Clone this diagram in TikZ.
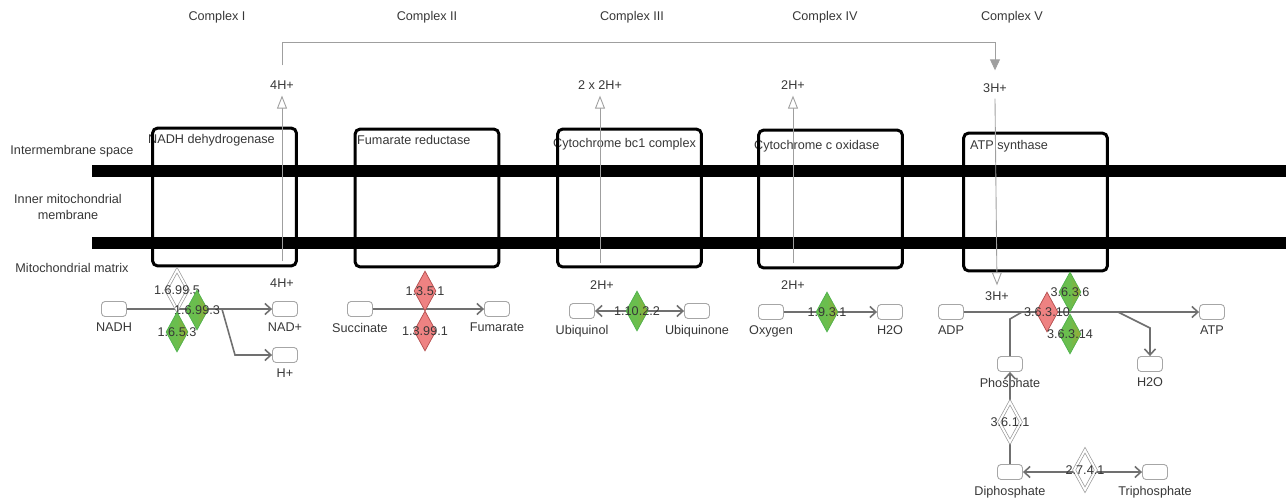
\documentclass[tikz,border=0pt]{standalone}
\usepackage{fontspec}
\setmainfont{Liberation Sans}
\usetikzlibrary{arrows.meta,shapes.geometric,positioning}
\definecolor{enzgreen}{RGB}{106,190,78}
\definecolor{enzred}{RGB}{238,130,130}
\definecolor{linegray}{RGB}{112,112,112}
\definecolor{txtgray}{RGB}{55,55,55}

\begin{document}
\begin{tikzpicture}[x=0.02cm, y=-0.02cm,
  every node/.style={font=\fontsize{7.2}{8.6}\selectfont, text=txtgray},
  complex/.style={rectangle, rounded corners=3pt, draw=black, line width=1.7pt,
    minimum width=2.88cm, minimum height=2.76cm},
  metab/.style={rectangle, rounded corners=2pt, draw=gray!70, fill=white,
    line width=0.5pt, minimum width=0.5cm, minimum height=0.3cm, inner sep=0pt,
    label distance=0.05cm},
  enz/.style={diamond, inner sep=0pt, minimum width=0.44cm, minimum height=0.8cm,
    line width=0.4pt},
  upenz/.style={enz, draw=green!40!gray, left color=enzgreen, right color=enzgreen!65!orange,
    middle color=enzgreen},
  downenz/.style={enz, draw=red!40!gray, fill=enzred},
  noenz/.style={enz, draw=gray!80, double=white, double distance=1.1pt, fill=white},
  conn/.style={-{Straight Barb[length=0.12cm, width=0.22cm]}, line width=0.9pt, draw=linegray},
  dconn/.style={{Straight Barb[length=0.12cm, width=0.22cm]}-{Straight Barb[length=0.12cm, width=0.22cm]},
    line width=0.9pt, draw=linegray},
  plain/.style={line width=0.9pt, draw=linegray},
  proton/.style={-{Triangle[open, length=0.26cm, width=0.2cm, fill=white]}, line width=0.5pt, draw=gray!75},
  topline/.style={-{Triangle[length=0.22cm, width=0.2cm]}, line width=0.5pt, draw=gray!75}
]
\useasboundingbox (0,0) rectangle (1286,501);

% complexes and compartments
\node (cI)   at (217,17)  {Complex I};
\node (cII)  at (427,17)  {Complex II};
\node (cIII) at (632,17)  {Complex III};
\node (cIV)  at (825,17)  {Complex IV};
\node (cV)   at (1012,17) {Complex V};
\node (ims) at (72,151) {Intermembrane space};
\node[align=center] (imm) at (68,207) {Inner mitochondrial\\membrane};
\node (mm)  at (72,268) {Mitochondrial matrix};
\fill[black] (92,165) rectangle (1286,177);
\fill[black] (92,237) rectangle (1286,249);

\node[anchor=west] (tI)   at (142,140) {NADH dehydrogenase};
\node[anchor=west] (tII)  at (351,140) {Fumarate reductase};
\node[anchor=west] (tIII) at (547,144) {Cytochrome bc1 complex};
\node[anchor=west] (tIV)  at (748,146) {Cytochrome c oxidase};
\node[anchor=west] (tV)   at (964,146) {ATP synthase};
\node[complex] (bI)   at (224.5,197) {};
\node[complex] (bII)  at (427,198)   {};
\node[complex] (bIII) at (629.5,198) {};
\node[complex] (bIV)  at (830.5,199) {};
\node[complex] (bV)   at (1035.5,202) {};

% protons
\node (h1t) at (282,85)  {4H+};
\node (h1b) at (282,283) {4H+};
\node (h3t) at (600,85)  {2 x 2H+};
\node (h3b) at (602,285) {2H+};
\node (h4t) at (793,85)  {2H+};
\node (h4b) at (793,285) {2H+};
\node (h5t) at (995,88)  {3H+};
\node (h5b) at (997,296) {3H+};
\draw[proton, shorten <=0.22cm] (h1b.north) -- (h1t.south);
\draw[proton, shorten <=0.22cm] (h3b.north -| h3t) -- (h3t.south);
\draw[proton, shorten <=0.22cm] (h4b.north) -- (h4t.south);
\draw[proton] (h5t.south) -- (h5b.north);
\coordinate (topy) at (0,42);
\draw[topline, shorten <=0.18cm, shorten >=0.14cm] (h1t.north) |- (h5t.north |- topy) -- (h5t.north);

% matrix metabolites
\node[metab, label=below:NADH] (nadh) at (114,309) {};
\node[metab, label=below:NAD+] (nadp) at (285,309) {};
\node[metab, label=below:H+]   (hp)   at (285,355) {};
\node[metab, label=below:Succinate] (succ) at (360,309) {};
\node[metab, label=below:Fumarate]  (fum)  at (497,309) {};
\node[metab, label=below:Ubiquinol]  (uqh) at (582,311) {};
\node[metab, label=below:Ubiquinone] (uq)  at (697,311) {};
\node[metab, label=below:Oxygen] (oxy)  at (771,312) {};
\node[metab, label=below:H2O]    (wat4) at (890,312) {};
\node[metab, label=below:ADP] (adp)  at (951,312) {};
\node[metab, label=below:ATP] (atp)  at (1212,312) {};
\node[metab, label=below:Phosphate] (pho)  at (1010,364) {};
\node[metab, label=below:H2O]       (wat5) at (1150,364) {};
\node[metab, label=below:Diphosphate]  (diph)  at (1010,472) {};
\node[metab, label=below:Triphosphate] (triph) at (1155,472) {};

% reactions
\draw[conn] (nadh) -- (nadp);
\coordinate (br1) at (222,309);
\coordinate (br1b) at (235,355);
\draw[conn] (br1) -- (br1b) -- (hp);
\draw[conn] (succ) -- (fum);
\draw[dconn] (uqh) -- (uq);
\draw[conn] (oxy) -- (wat4);
\draw[conn] (adp) -- (atp);
\coordinate (pb) at (1010,319);
\coordinate (pj) at (1022,312);
\draw[plain] (pho.north) -- (pb) -- (pj);
\coordinate (wj) at (1118,312);
\coordinate (wb) at (1150,328);
\draw[conn] (wj) -- (wb) -- (wat5.north);
\draw[conn] (diph.north) -- (pho.south);
\draw[dconn] (diph) -- (triph);

% enzymes
\node[noenz,   label=center:1.6.99.5] (e1) at (177,290) {};
\node[upenz,   label=center:1.6.99.3] (e2) at (197,310) {};
\node[upenz,   label=center:1.6.5.3]  (e3) at (177,332) {};
\node[downenz, label=center:1.3.5.1]  (e4) at (425,291) {};
\node[downenz, label=center:1.3.99.1] (e5) at (425,331) {};
\node[upenz,   label=center:1.10.2.2] (e6) at (637,311) {};
\node[upenz,   label=center:1.9.3.1]  (e7) at (827,312) {};
\node[upenz,   label=center:3.6.3.6]  (e8) at (1070,292) {};
\node[downenz, label=center:3.6.3.10] (e9) at (1047,312) {};
\node[upenz,   label=center:3.6.3.14] (e10) at (1070,334) {};
\node[noenz,   label=center:3.6.1.1]  (e11) at (1010,422) {};
\node[noenz,   label=center:2.7.4.1]  (e12) at (1085,470) {};
\end{tikzpicture}
\end{document}
